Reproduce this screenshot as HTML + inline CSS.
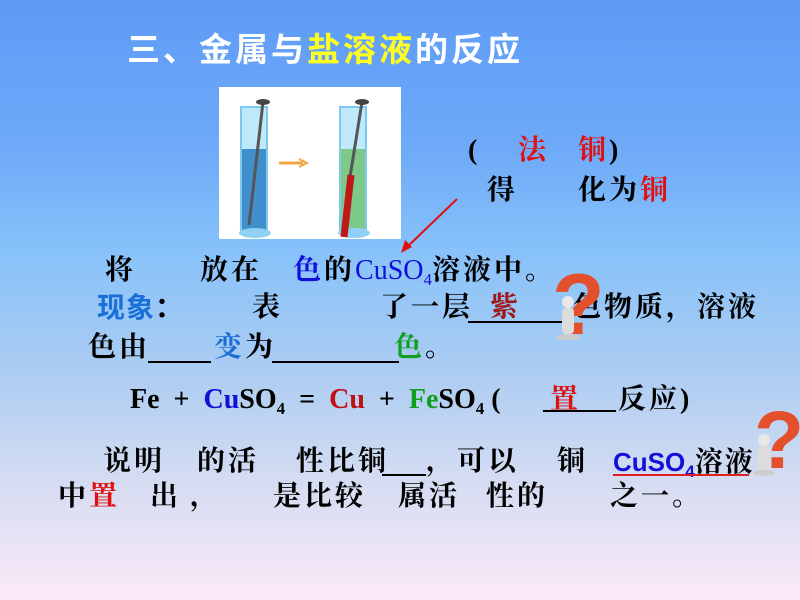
<!DOCTYPE html>
<html><head><meta charset="utf-8">
<style>
html,body{margin:0;padding:0}
body{width:800px;height:600px;position:relative;overflow:hidden;
background:linear-gradient(to bottom,#5e9bf6 0%,#6eaaf8 25%,#88c2fa 42%,#a8cbf2 60%,#d4dcf2 80%,#fbe9f8 100%);
font-family:"Liberation Serif","Noto Serif CJK SC",serif;}
.t{position:absolute;font-size:28px;line-height:30px;white-space:nowrap;color:#000;font-weight:bold;letter-spacing:3px}
.ul{position:absolute;height:2px;background:#000}
.lat{letter-spacing:0}
sub{font-size:17px;vertical-align:-6px;line-height:0}
.b{color:#1010d8}.r{color:#e01010}
</style></head><body>
<div class="t" style="left:127px;top:32px;font-size:33px;line-height:36px;font-weight:bold;font-family:'Liberation Sans','Noto Sans CJK SC',sans-serif;color:#fff;letter-spacing:3px">三、金属与<span style="color:#ffff20">盐溶液</span>的反应</div>

<svg style="position:absolute;left:219px;top:87px" width="182" height="152">
<rect width="182" height="152" fill="#fff"/>
<rect x="22" y="20" width="26" height="126" fill="#bfe8fb" stroke="#7cc8ee" stroke-width="2"/>
<rect x="23" y="62" width="24" height="82" fill="#3f8fcc"/>
<ellipse cx="36" cy="146" rx="16" ry="5" fill="#8fd0f4"/>
<line x1="44" y1="15" x2="30" y2="138" stroke="#555" stroke-width="3"/>
<ellipse cx="44" cy="15" rx="7" ry="3" fill="#444"/>
<rect x="121" y="20" width="26" height="126" fill="#bfe8fb" stroke="#7cc8ee" stroke-width="2"/>
<rect x="122" y="62" width="24" height="82" fill="#7cc98a"/>
<ellipse cx="135" cy="146" rx="16" ry="5" fill="#8fd0f4"/>
<line x1="143" y1="15" x2="131" y2="90" stroke="#555" stroke-width="3"/>
<line x1="132" y1="88" x2="125" y2="150" stroke="#c01818" stroke-width="7"/>
<ellipse cx="143" cy="15" rx="7" ry="3" fill="#444"/>
<line x1="60" y1="76" x2="84" y2="76" stroke="#f0a840" stroke-width="3"/>
<path d="M80 72 L88 76 L80 80" fill="none" stroke="#f0a840" stroke-width="2"/>
</svg>

<div class="t" style="left:468px;top:136px">(</div>
<div class="t r" style="left:518px;top:136px">法</div>
<div class="t r" style="left:578px;top:136px">铜<span style="color:#000">)</span></div>
<div class="t" style="left:487px;top:176px">得</div>
<div class="t" style="left:578px;top:176px">化为<span class="r">铜</span></div>
<svg style="position:absolute;left:395px;top:195px" width="70" height="65">
<line x1="62" y1="4" x2="10" y2="54" stroke="#e01010" stroke-width="2"/>
<path d="M6 58 L10 45 L17 52 Z" fill="#e01010"/>
</svg>

<div class="t" style="left:105px;top:256px">将</div>
<div class="t" style="left:200px;top:256px">放在</div>
<div class="t" style="left:293px;top:256px"><span class="b">色</span>的<span class="b lat" style="font-weight:normal">CuSO<sub>4</sub></span>溶液中。</div>

<div class="t" style="left:97px;top:293px;color:#1a6fd8;font-family:'Liberation Sans','Noto Sans CJK SC',sans-serif;letter-spacing:1px">现象<span style="color:#000">：</span></div>
<div class="t" style="left:252px;top:293px">表</div>
<div class="t" style="left:380px;top:293px">了一层</div>
<div class="ul" style="left:468px;top:321px;width:95px"></div>
<div class="t" style="left:490px;top:293px;color:#a01818">紫</div>
<div class="t" style="left:573px;top:293px">色物质，溶液</div>

<div class="t" style="left:88px;top:333px">色由</div>
<div class="ul" style="left:148px;top:361px;width:63px"></div>
<div class="t" style="left:214px;top:333px"><span style="color:#1a6fd8">变</span>为</div>
<div class="ul" style="left:272px;top:361px;width:127px"></div>
<div class="t" style="left:394px;top:333px"><span style="color:#10a020">色</span>。</div>

<div class="t lat" style="left:130px;top:385px;font-family:'Liberation Serif',serif">Fe&nbsp; + &nbsp;<span class="b">Cu</span>SO<sub>4</sub>&nbsp; = &nbsp;<span style="color:#c01010">Cu</span>&nbsp; + &nbsp;<span style="color:#10a020">Fe</span>SO<sub>4</sub> (</div>
<div class="ul" style="left:543px;top:410px;width:73px"></div>
<div class="t r" style="left:550px;top:385px">置</div>
<div class="t" style="left:618px;top:385px">反应)</div>

<div class="t" style="left:103px;top:447px">说明</div>
<div class="t" style="left:197px;top:447px">的活</div>
<div class="t" style="left:296px;top:447px">性比铜</div>
<div class="ul" style="left:382px;top:474px;width:44px"></div>
<div class="t" style="left:426px;top:447px">，可以</div>
<div class="t" style="left:557px;top:447px">铜</div>
<div class="t b lat" style="left:613px;top:447px;font-family:'Liberation Sans',sans-serif;font-size:26px">CuSO<sub>4</sub><span style="color:#000;font-family:'Liberation Serif','Noto Serif CJK SC',serif;font-size:28px;letter-spacing:2px">溶液</span></div>
<div class="ul" style="left:613px;top:474px;width:136px;background:#e02020"></div>

<div class="t" style="left:58px;top:482px">中<span class="r">置</span></div>
<div class="t" style="left:150px;top:482px">出</div>
<div class="t" style="left:190px;top:482px">，</div>
<div class="t" style="left:273px;top:482px">是比较</div>
<div class="t" style="left:398px;top:482px">属活</div>
<div class="t" style="left:486px;top:482px">性的</div>
<div class="t" style="left:610px;top:482px">之一。</div>

<svg style="position:absolute;left:550px;top:262px" width="52" height="84">
<text x="2" y="72" font-family="Liberation Sans" font-weight="bold" font-size="86" fill="#e4502c">?</text>
<circle cx="18" cy="40" r="6" fill="#e8e8e8"/>
<rect x="12" y="46" width="12" height="26" rx="4" fill="#dcdcdc"/>
<ellipse cx="18" cy="75" rx="12" ry="3" fill="#ccc"/>
</svg>
<svg style="position:absolute;left:750px;top:400px" width="50" height="80">
<text x="4" y="68" font-family="Liberation Sans" font-weight="bold" font-size="82" fill="#e4502c">?</text>
<circle cx="14" cy="40" r="6" fill="#e8e8e8"/>
<rect x="8" y="46" width="12" height="24" rx="4" fill="#dcdcdc"/>
<ellipse cx="14" cy="73" rx="11" ry="3" fill="#ccc"/>
</svg>
</body></html>
